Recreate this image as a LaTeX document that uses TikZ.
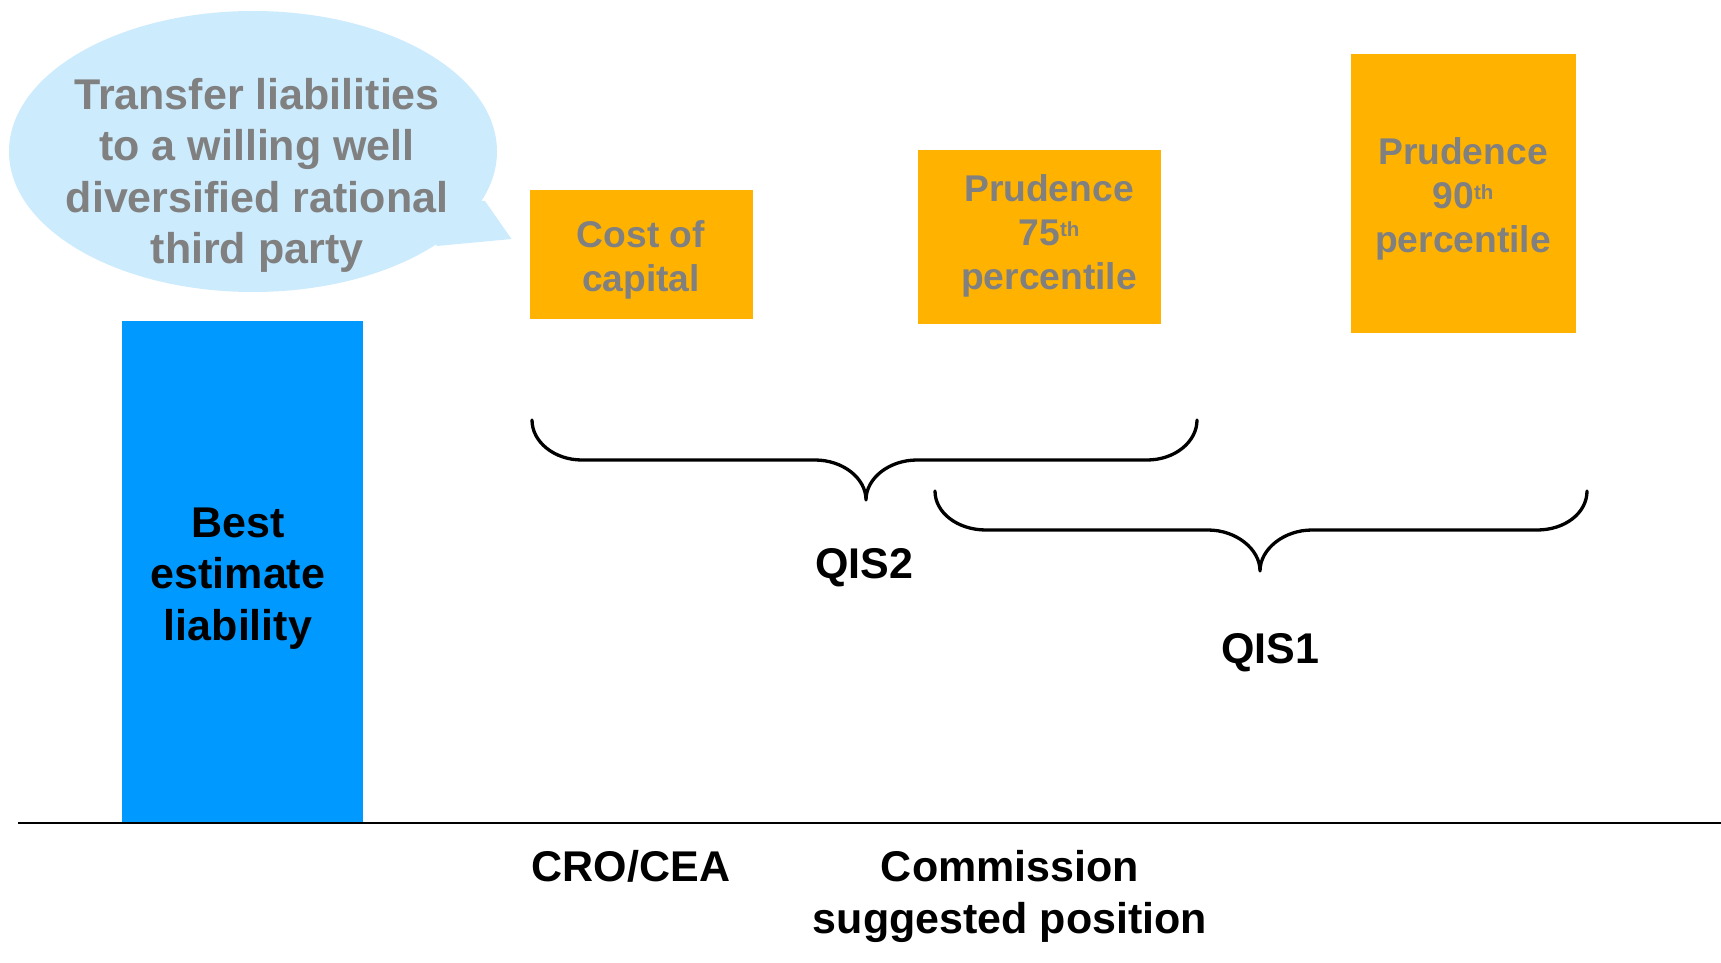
\documentclass[tikz,border=0pt]{standalone}
\usepackage{fontspec}
\setmainfont{Liberation Sans}
\usetikzlibrary{shapes.geometric}
\definecolor{bubblefill}{RGB}{204,235,253}
\definecolor{bestblue}{RGB}{0,153,255}
\definecolor{boxorange}{RGB}{255,179,0}
\definecolor{labelgray}{RGB}{128,128,128}
\newcommand{\ordsup}[1]{\raisebox{9pt}{\fontsize{20.5}{20.5}\selectfont #1}}
\tikzset{
  bigtext/.style={align=center, inner sep=0pt, font={\fontsize{43}{51.5}\selectfont\bfseries}},
  boxtext/.style={align=center, inner sep=0pt, text=labelgray, font={\fontsize{37.2}{44}\selectfont\bfseries}},
  bar/.style={draw=none, fill=boxorange, inner sep=0pt},
  bracket/.style={line width=3.3pt, line cap=round, line join=round}
}
\begin{document}
\begin{tikzpicture}[x=1pt, y=-1pt]
  \useasboundingbox (0,0) rectangle (1721,963);

  % speech bubble with its pointer
  \fill[bubblefill] (485,201) -- (511.5,239) -- (437,246) -- (400,200) -- cycle;
  \node[ellipse, fill=bubblefill, draw=none, minimum width=488pt, minimum height=281pt, inner sep=0pt] (bubble) at (253,151.5) {};
  \node[bigtext, text=labelgray] (bubbletext) at (257,175.5) {Transfer liabilities\\to a willing well\\diversified rational\\third party};

  % best estimate bar
  \node[draw=none, fill=bestblue, minimum width=241.5pt, minimum height=501.5pt, inner sep=0pt] (bel) at (242.5,571.25) {};
  \node[bigtext] (beltext) at (238,578.5) {Best\\estimate\\liability};

  % axis
  \draw[line width=2pt] (18,823) -- (1721,823);

  % margin boxes
  \node[bar, minimum width=223pt, minimum height=129pt] (coc) at (641.5,254.5) {};
  \node[boxtext] (coctext) at (641,259.5) {Cost of\\capital};
  \node[bar, minimum width=242.5pt, minimum height=173.5pt] (p75) at (1039.25,237.2) {};
  \node[boxtext] (p75text) at (1049,235.5) {Prudence\\75\ordsup{th}\\percentile};
  \node[bar, minimum width=225pt, minimum height=279pt] (p90) at (1463.5,193.3) {};
  \node[boxtext] (p90text) at (1463,198.5) {Prudence\\90\ordsup{th}\\percentile};

  % QIS2 brace
  \draw[bracket] (532,420) .. controls (532,442) and (554.4,460) .. (582,460)
    -- (815,460) .. controls (842.6,460) and (866,478) .. (866,500)
    .. controls (866,478) and (889.4,460) .. (917,460)
    -- (1147,460) .. controls (1174.6,460) and (1197,442) .. (1197,420);
  \node[bigtext] (qis2) at (864,567.5) {QIS2};

  % QIS1 brace
  \draw[bracket] (935,491) .. controls (935,513) and (958,530) .. (986,530)
    -- (1208,530) .. controls (1236,530) and (1260,549) .. (1260,571)
    .. controls (1260,549) and (1284,530) .. (1312,530)
    -- (1537,530) .. controls (1565,530) and (1587,513) .. (1587,491);
  \node[bigtext] (qis1) at (1270,652.5) {QIS1};

  % labels under the axis
  \node[bigtext] (cro) at (631,866) {CRO/CEA};
  \node[bigtext] (comm) at (1010,896.5) {Commission\\suggested position};
\end{tikzpicture}
\end{document}
